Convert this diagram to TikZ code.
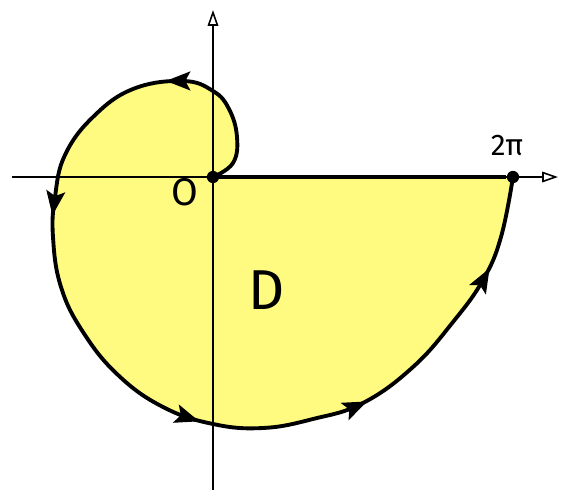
\documentclass[tikz,border=0pt]{standalone}
\usepackage{fontspec}
\setsansfont{Fira Sans}
\usetikzlibrary{arrows.meta,decorations.markings}
\definecolor{fillyellow}{RGB}{255,250,128}
\newcommand\spiraltip{\fill (7pt,0pt) -- (-7pt,5.5pt) -- (-4pt,0pt) -- (-7pt,-5.5pt) -- cycle;}

\begin{document}
\begin{tikzpicture}[x=0.02cm, y=0.02cm, every node/.style={font=\sffamily},
	axis/.style={line width=0.9pt, -{Triangle[open, length=9pt, width=6pt]}},
	dot/.style={circle, fill=black, minimum size=7pt, inner sep=0pt},
	spiral/.style={line width=2.2pt, line join=round,
		postaction={decorate, decoration={markings,
			mark=at position 0.133 with {\spiraltip},
			mark=at position 0.313 with {\spiraltip},
			mark=at position 0.568 with {\spiraltip},
			mark=at position 0.729 with {\spiraltip},
			mark=at position 0.90 with {\spiraltip}}}}]
	\useasboundingbox (-213,-314) rectangle (363,177);
	% region D and its boundary curve
	\draw[spiral, preaction={fill=fillyellow}] plot[smooth, tension=0.7] coordinates {
		(0,0) (20,14) (24,40) (16,68) (0,86) (-30,96) (-80,88) (-120,60)
		(-148,22) (-158,-20) (-160,-60) (-152,-110) (-130,-155) (-95,-198)
		(-50,-230) (0,-247) (50,-251) (100,-242) (150,-226) (200,-190)
		(240,-145) (270,-103) (288,-60) (300,0)};
	% axes
	\coordinate (xs) at (-201,0);
	\coordinate (xe) at (345,0);
	\coordinate (ys) at (0,-313);
	\coordinate (ye) at (0,167);
	\draw[axis] (xs) -- (xe);
	\draw[axis] (ys) -- (ye);
	\node[dot] (O) at (0,0) {};
	\node[dot] (P) at (300,0) {};
	\draw[line width=2pt] (O) -- (P);
	\node[font=\sffamily\fontsize{22}{22}\selectfont] (lO) at (-28,-15) {O};
	\node[font=\sffamily\fontsize{32}{32}\selectfont] (lD) at (54,-113) {D};
	\node[font=\sffamily\fontsize{17}{17}\selectfont] (lP) at (294,31) {2π};
\end{tikzpicture}
\end{document}
